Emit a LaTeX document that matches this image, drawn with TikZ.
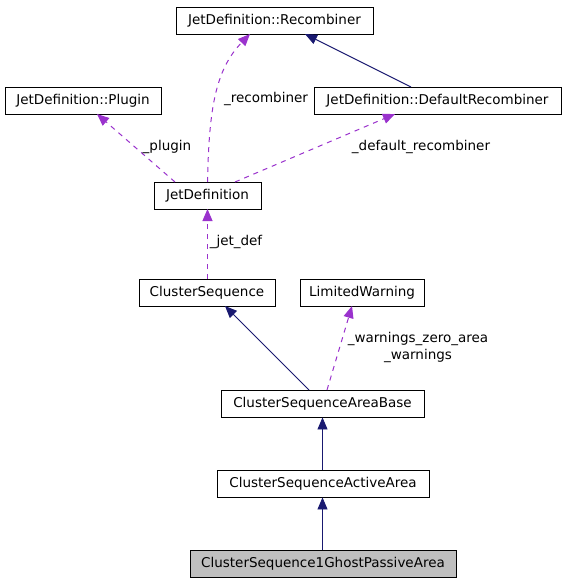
\documentclass[tikz,border=0pt]{standalone}
\usepackage{fontspec}
\setmainfont{DejaVu Sans}
\usetikzlibrary{arrows.meta}
\definecolor{navyc}{HTML}{191970}
\definecolor{purplec}{HTML}{9A32CD}
\definecolor{greyfill}{HTML}{BFBFBF}
\begin{document}
\begin{tikzpicture}[x=1pt,y=-1pt,
  cls/.style={draw=black, fill=white, line width=0.9pt, inner sep=0pt, minimum height=27pt, font=\fontsize{13.5}{16}\selectfont},
  inh/.style={draw=navyc, line width=0.9pt, -{Triangle[length=12pt,width=10pt]}},
  use/.style={draw=purplec, line width=1pt, dash pattern=on 5pt off 5pt, -{Triangle[length=12pt,width=10pt]}},
  lbl/.style={font=\fontsize{13.5}{17}\selectfont, inner sep=0pt, align=center}]
\useasboundingbox (0,0) rectangle (568,584);
\fill[white] (0,0) rectangle (568,584);
\node[cls, minimum width=197pt] (rec) at (274.5,20.5) {JetDefinition::Recombiner};
\node[cls, minimum width=156pt] (plug) at (83,100.5) {JetDefinition::Plugin};
\node[cls, minimum width=247pt] (drec) at (437.5,100.5) {JetDefinition::DefaultRecombiner};
\node[cls, minimum width=107pt] (jd) at (207.5,195.5) {JetDefinition};
\node[cls, minimum width=136pt] (cs) at (207,292.5) {ClusterSequence};
\node[cls, minimum width=124pt] (lw) at (362,292.5) {LimitedWarning};
\node[cls, minimum width=203pt] (ab) at (322.5,403.5) {ClusterSequenceAreaBase};
\node[cls, minimum width=212pt] (aa) at (323,483.5) {ClusterSequenceActiveArea};
\node[cls, minimum width=266pt, fill=greyfill] (gp) at (323,563.5) {ClusterSequence1GhostPassiveArea};

\coordinate (drecT) at (411,87);
\coordinate (recB1) at (305,34);
\draw[inh] (drecT) -- (recB1);

\coordinate (jdT0) at (207.5,182);
\coordinate (recB2) at (250,34);
\draw[use] (jdT0) .. controls (209,110) and (215,70) .. (recB2);
\node[lbl] (lrec) at (266,98.5) {\_recombiner};

\coordinate (jdT1) at (175,182);
\coordinate (plugB) at (97,114);
\draw[use] (jdT1) -- (plugB);
\node[lbl] (lplug) at (167,147) {\_plugin};

\coordinate (jdT2) at (235,182);
\coordinate (drecB) at (395,114);
\draw[use] (jdT2) -- (drecB);
\node[lbl] (ldrec) at (421,147) {\_default\_recombiner};

\coordinate (csT) at (207.5,279);
\coordinate (jdB) at (207.5,209);
\draw[use] (csT) -- (jdB);
\node[lbl] (ljd) at (236,242) {\_jet\_def};

\coordinate (abT1) at (309,390);
\coordinate (csB) at (225,306);
\draw[inh] (abT1) -- (csB);

\coordinate (abT2) at (327,390);
\coordinate (lwB) at (352,306);
\draw[use] (abT2) -- (lwB);
\node[lbl] (lwarn) at (418,347) {\_warnings\_zero\_area\\\_warnings};

\draw[inh] (aa.north -| 322.5,0) -- (ab.south -| 322.5,0);
\draw[inh] (gp.north -| 322.5,0) -- (aa.south -| 322.5,0);
\end{tikzpicture}
\end{document}
